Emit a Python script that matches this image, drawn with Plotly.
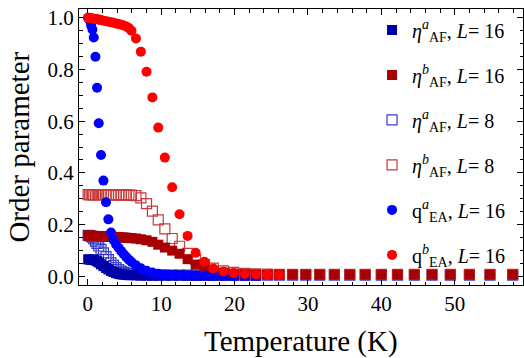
import plotly.graph_objects as go

# Temperature grid (K)
T = [0.05, 0.25, 0.45, 0.63, 0.81, 1.04, 1.26, 1.49, 1.8, 2.13, 2.48, 2.8, 3.16, 3.5, 3.85,
     4.2, 4.55, 4.9, 5.25, 5.6, 5.95, 6.56, 7.23, 8.0, 8.8, 9.6, 10.5, 11.5, 12.5, 13.6,
     14.7, 15.9, 17.1, 18.5, 19.9, 21.4, 22.9, 24.5, 26.1, 27.9, 29.7, 31.6, 33.6, 35.7,
     37.8, 40.0, 42.2, 44.5, 46.9, 49.4, 52.0, 54.8, 57.9]

eta_a_16 = [0.065, 0.065, 0.064, 0.064, 0.063, 0.061, 0.058, 0.053, 0.046, 0.039, 0.032,
            0.026, 0.020, 0.016, 0.012, 0.009, 0.007, 0.006, 0.005, 0.004, 0.004, 0.004,
            0.003, 0.003, 0.003, 0.003, 0.003, 0.003, 0.003, 0.002, 0.002, 0.002, 0.002,
            0.002, 0.002, 0.002, 0.002]

eta_b_16 = [0.157, 0.157, 0.157, 0.156, 0.156, 0.156, 0.155, 0.155, 0.155, 0.154, 0.154,
            0.153, 0.153, 0.152, 0.152, 0.151, 0.150, 0.150, 0.149, 0.148, 0.147,
            0.146, 0.143, 0.139, 0.133, 0.122, 0.111, 0.099, 0.087, 0.066, 0.045, 0.031,
            0.021, 0.014, 0.010, 0.008, 0.007,
            0.006, 0.006, 0.006, 0.006, 0.006, 0.006, 0.006, 0.006, 0.006, 0.006, 0.006,
            0.006, 0.006, 0.006, 0.006, 0.006]

eta_a_8 = [0.158, 0.157, 0.155, 0.151, 0.145, 0.136, 0.127, 0.117, 0.104, 0.090, 0.076,
           0.064, 0.052, 0.042, 0.033, 0.026, 0.020, 0.015, 0.012, 0.010, 0.008, 0.006,
           0.005, 0.005,
           0.004, 0.004, 0.004, 0.004, 0.004, 0.004, 0.004, 0.004, 0.004, 0.004, 0.004,
           0.004, 0.004, 0.004, 0.004, 0.004, 0.004, 0.004, 0.004, 0.004, 0.004, 0.004,
           0.004, 0.004, 0.004, 0.004, 0.004, 0.004, 0.004]

eta_b_8 = [0.316, 0.316, 0.316, 0.316, 0.316, 0.316, 0.316, 0.316, 0.316, 0.316, 0.316,
           0.315, 0.315, 0.315, 0.315, 0.315, 0.315, 0.315, 0.314, 0.314, 0.314,
           0.312, 0.303, 0.281, 0.252, 0.218, 0.183, 0.146, 0.116, 0.088, 0.064, 0.045,
           0.031, 0.021, 0.015, 0.011, 0.009, 0.008,
           0.007, 0.007, 0.007, 0.007, 0.007, 0.007, 0.007, 0.007, 0.007, 0.007, 0.007,
           0.007, 0.007, 0.007, 0.007]

q_a_16 = [1.000, 0.990, 0.970, 0.955, 0.924, 0.849, 0.729, 0.592, 0.469, 0.370, 0.286,
          0.220, 0.169, 0.140, 0.123, 0.110, 0.097, 0.085, 0.074, 0.064, 0.055, 0.042,
          0.031, 0.021, 0.014, 0.010, 0.007, 0.005, 0.004, 0.004, 0.003, 0.003, 0.003,
          0.002, 0.002, 0.002, 0.002]

q_b_16 = [1.000, 0.999, 0.998, 0.997, 0.996, 0.995, 0.994, 0.993, 0.991, 0.989, 0.987,
          0.985, 0.983, 0.981, 0.978, 0.976, 0.973, 0.970, 0.966, 0.960, 0.950, 0.920,
          0.869, 0.791, 0.692, 0.575, 0.459, 0.344, 0.240, 0.156, 0.091, 0.056, 0.030,
          0.018, 0.012, 0.009, 0.007, 0.006, 0.005]

x_title = "Temperature (K)"
y_title = "Order parameter"

FONT = "Liberation Serif"

series = [
    ("<i>η</i><sup><i>a</i></sup><sub>AF</sub>, <i>L</i>= 16", eta_a_16, "square", "#0000a8", 3),
    ("<i>η</i><sup><i>b</i></sup><sub>AF</sub>, <i>L</i>= 16", eta_b_16, "square", "#a80000", 4),
    ("<i>η</i><sup><i>a</i></sup><sub>AF</sub>, <i>L</i>= 8", eta_a_8, "square-open", "#3a3ac8", 1),
    ("<i>η</i><sup><i>b</i></sup><sub>AF</sub>, <i>L</i>= 8", eta_b_8, "square-open", "#c83a3a", 2),
    ("q<sup><i>a</i></sup><sub>EA</sub>, <i>L</i>= 16", q_a_16, "circle", "#0000ff", 5),
    ("q<sup><i>b</i></sup><sub>EA</sub>, <i>L</i>= 16", q_b_16, "circle", "#ff0000", 6),
]

fig = go.Figure()
for i, (name, vals, sym, col, z) in enumerate(series):
    if sym == "square-open":
        marker = dict(symbol=sym, size=10, color=col, line=dict(color=col, width=1.2))
    else:
        marker = dict(symbol=sym, size=10, color=col, line=dict(width=0))
    fig.add_trace(go.Scatter(
        x=T[:len(vals)], y=vals, mode="markers", name=name, marker=marker,
        zorder=z, legendgroup="g%d" % i, legendrank=i + 1,
        xaxis="x2", yaxis="y2", cliponaxis=True,
    ))

xr = [-1.2, 59.3]
yr = [-0.034, 1.034]

fig.update_layout(
    width=524, height=358,
    margin=dict(l=79, r=1, t=9, b=73, autoexpand=False),
    paper_bgcolor="white", plot_bgcolor="white",
    font=dict(family=FONT, size=20, color="black"),
    showlegend=True,
    legend=dict(
        x=0.66, y=0.995, xanchor="left", yanchor="top",
        bgcolor="rgba(0,0,0,0)", font=dict(family=FONT, size=20, color="black"),
        traceorder="grouped", tracegroupgap=16, itemwidth=30,
    ),
    xaxis=dict(range=xr, showgrid=True, gridcolor="#a8a8a8", gridwidth=1.2,
               tickvals=[10, 20, 30, 40, 50], showticklabels=False, ticks="",
               zeroline=False, showline=False, automargin=False),
    yaxis=dict(range=yr, showgrid=True, gridcolor="#a8a8a8", gridwidth=1.2,
               tickvals=[0.2, 0.4, 0.6, 0.8], showticklabels=False, ticks="",
               zeroline=False, showline=False, automargin=False),
    xaxis2=dict(overlaying="x", anchor="y2", side="bottom", range=xr,
                showgrid=False, zeroline=False, showline=True, linecolor="black",
                linewidth=1, mirror="allticks", ticks="inside", ticklen=6,
                tickcolor="black", tick0=0, dtick=10, automargin=False,
                minor=dict(ticks="inside", dtick=2, tick0=0, ticklen=3.5, tickcolor="black"),
                tickfont=dict(family=FONT, size=21)),
    yaxis2=dict(overlaying="y", anchor="x2", side="left", range=yr,
                showgrid=False, zeroline=False, showline=True, linecolor="black",
                linewidth=1, mirror="allticks", ticks="inside", ticklen=6,
                tickcolor="black", tick0=0, dtick=0.2, tickformat=".1f", automargin=False,
                minor=dict(ticks="inside", dtick=0.05, tick0=0, ticklen=3.5, tickcolor="black"),
                tickfont=dict(family=FONT, size=21)),
    annotations=[
        dict(text=x_title, xref="paper", yref="paper", x=0.5, y=-0.205,
             xanchor="center", yanchor="middle", showarrow=False,
             font=dict(family=FONT, size=29, color="black")),
        dict(text=y_title, xref="paper", yref="paper", x=-0.136, y=0.5,
             xanchor="center", yanchor="middle", showarrow=False, textangle=-90,
             font=dict(family=FONT, size=29, color="black")),
    ],
)

fig.write_html("out.html", config={"displayModeBar": False},
               post_script="document.body.style.margin='0';document.body.style.padding='0';")
